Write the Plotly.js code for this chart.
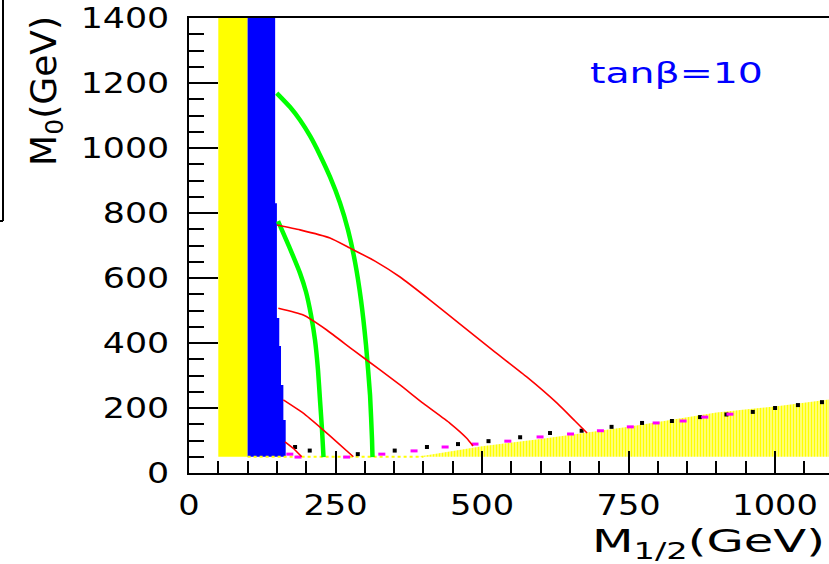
<!DOCTYPE html>
<html>
<head>
<meta charset="utf-8">
<script src="https://cdn.plot.ly/plotly-3.0.1.min.js"></script>
<style>
  html, body { margin: 0; padding: 0; background: #ffffff; }
  #chart { width: 829px; height: 564px; }
</style>
</head>
<body>
<div id="chart"></div>
<script>
// ---- data (GeV) ----
const yellowBandX = [50, 100, 100, 50, 50];
const yellowBandY = [50, 50, 1400, 1400, 50];

const blueX = [100, 147, 147, 150, 150, 154, 154, 157, 157, 161, 161, 165, 165, 100, 100];
const blueY = [1400, 1400, 830, 830, 477, 477, 391, 391, 271, 271, 163, 163, 50, 50, 1400];

const hatchX = [100, 390, 500, 600, 750, 900, 1000, 1100, 1100, 100];
const hatchY = [50, 50, 82, 105, 142, 186, 205, 228, 50, 50];

const yellowDotX = [100, 400];
const yellowDotY = [50, 50];

const greenOuterX = [149.7, 172.4, 189.4, 206.5, 223.5, 240.6, 257.7, 271.3, 283.3, 293.5, 302, 308.9, 312.3, 313.1];
const greenOuterY = [1169, 1126, 1086, 1037, 978, 911, 831, 748, 649, 532, 394, 240, 102, 49];

const greenInnerX = [151.9, 163.8, 177.5, 189.4, 199.7, 208.2, 215, 220.1, 223.5, 227, 229.5];
const greenInnerY = [775, 726, 668, 615, 557, 486, 409, 317, 225, 132, 49];

const red1X = [150.2, 189.4, 240.6, 274.7, 317.4, 360.1, 411.3, 462.5, 522.2, 576.8, 628, 658.7, 679.2];
const red1Y = [763, 748, 723, 692, 652, 603, 532, 458, 372, 295, 215, 160, 123];

const red2X = [152.4, 195, 235, 280.4, 326, 360, 399.8, 445.4, 473.9, 484.6];
const red2Y = [507, 486, 440, 378, 317, 271, 214, 153, 107, 83];

const red3X = [160.9, 195, 229.2, 252, 280.4];
const red3Y = [225, 184, 132, 96, 50];

const red4X = [163.8, 178, 192.3];
const red4Y = [96, 76, 50];

const blackDotX = [181, 206, 288, 351, 406, 459, 511, 565, 616, 670, 721, 773, 824, 872, 917, 962, 1000, 1039, 1080];
const blackDotY = [80, 69, 58, 69, 80, 89, 98, 110, 123, 130, 142, 154, 160, 172, 180, 188, 200, 209, 218];

const magentaDotX = [172, 186, 269, 329, 384, 437, 488, 544, 599, 651, 702, 753, 797, 843, 880, 923];
const magentaDotY = [58, 49, 49, 58, 68, 80, 89, 98, 111, 120, 130, 142, 154, 160, 172, 181];

const xTickVals = [0, 250, 500, 750, 1000];
const xTickText = ['0', '250', '500', '750', '1000'];
const yTickVals = [0, 200, 400, 600, 800, 1000, 1200, 1400];
const yTickText = ['0', '200', '400', '600', '800', '1000', '1200', '1400'];

const FONT = 'DejaVu Sans, Liberation Sans, Arial, sans-serif';

const traces = [
  { x: yellowBandX, y: yellowBandY, type: 'scatter', mode: 'lines', fill: 'toself',
    fillcolor: '#ffff00', line: { width: 0, color: '#ffff00' }, hoverinfo: 'skip' },
  { x: blueX, y: blueY, type: 'scatter', mode: 'lines', fill: 'toself',
    fillcolor: '#0000ff', line: { width: 0, color: '#0000ff' }, hoverinfo: 'skip' },
  { x: hatchX, y: hatchY, type: 'scatter', mode: 'lines', fill: 'toself',
    fillcolor: 'rgba(0,0,0,0)',
    fillpattern: { shape: '|', fgcolor: '#ffff00', bgcolor: 'rgba(255,255,255,0)', size: 3, solidity: 0.7 },
    line: { width: 0, color: '#ffff00' }, hoverinfo: 'skip' },
  { x: yellowDotX, y: yellowDotY, type: 'scatter', mode: 'lines',
    line: { width: 2, color: '#ffff00', dash: '3px,3px' }, hoverinfo: 'skip' },
  { x: blackDotX, y: blackDotY, type: 'scatter', mode: 'markers',
    marker: { symbol: 'square', size: 4, color: '#000000', line: { width: 0 } }, hoverinfo: 'skip' },
  { x: magentaDotX, y: magentaDotY, type: 'scatter', mode: 'markers',
    marker: { symbol: 'line-ew', size: 5, color: '#ff00ff', line: { width: 3, color: '#ff00ff' } }, hoverinfo: 'skip' },
  { x: greenOuterX, y: greenOuterY, type: 'scatter', mode: 'lines', line: { width: 4.5, color: '#00ff00', shape: 'spline', smoothing: 0.5 } },
  { x: greenInnerX, y: greenInnerY, type: 'scatter', mode: 'lines', line: { width: 4.5, color: '#00ff00', shape: 'spline', smoothing: 0.5 } },
  { x: red1X, y: red1Y, type: 'scatter', mode: 'lines', line: { width: 1.6, color: '#ff0000', shape: 'spline', smoothing: 0.5 } },
  { x: red2X, y: red2Y, type: 'scatter', mode: 'lines', line: { width: 1.6, color: '#ff0000', shape: 'spline', smoothing: 0.5 } },
  { x: red3X, y: red3Y, type: 'scatter', mode: 'lines', line: { width: 1.6, color: '#ff0000', shape: 'spline', smoothing: 0.5 } },
  { x: red4X, y: red4Y, type: 'scatter', mode: 'lines', line: { width: 1.6, color: '#ff0000' } }
];

const layout = {
  width: 829, height: 564,
  margin: { l: 189, r: 0, t: 18, b: 91, pad: 0 },
  paper_bgcolor: '#ffffff', plot_bgcolor: '#ffffff',
  showlegend: false,
  font: { family: FONT, color: '#000000' },
  xaxis: {
    range: [0, 1092], showgrid: false, zeroline: false,
    showline: true, linecolor: '#000000', linewidth: 2, mirror: true,
    ticks: 'inside', ticklen: 22, tickwidth: 2, tickcolor: '#000000',
    tickmode: 'array', tickvals: xTickVals, ticktext: xTickText,
    tickfont: { family: FONT, size: 28, color: '#000000' },
    ticklabelstandoff: 6,
    minor: { ticks: 'inside', ticklen: 12, tickwidth: 2, tickcolor: '#000000', dtick: 50, tick0: 0, showgrid: false }
  },
  yaxis: {
    range: [0, 1400], showgrid: false, zeroline: false,
    showline: true, linecolor: '#000000', linewidth: 2, mirror: false,
    ticks: 'inside', ticklen: 29, tickwidth: 2, tickcolor: '#000000',
    tickmode: 'array', tickvals: yTickVals, ticktext: yTickText,
    tickfont: { family: FONT, size: 29, color: '#000000' },
    ticklabelstandoff: 12,
    minor: { ticks: 'inside', ticklen: 15, tickwidth: 2, tickcolor: '#000000', dtick: 50, tick0: 0, showgrid: false }
  },
  annotations: [
    { text: 'tanβ=10', xref: 'paper', yref: 'paper', x: 0.7617, y: 0.877,
      xanchor: 'center', yanchor: 'middle', showarrow: false,
      font: { family: FONT, size: 28, color: '#0000ff' } },
    { text: 'M<sub>0</sub>(GeV)', xref: 'paper', yref: 'paper', x: -0.222, y: 0.8396,
      xanchor: 'center', yanchor: 'middle', textangle: -90, showarrow: false,
      font: { family: FONT, size: 36, color: '#000000' } },
    { text: 'M<sub>1/2</sub>(GeV)', xref: 'paper', yref: 'paper', x: 0.811, y: -0.1538,
      xanchor: 'center', yanchor: 'middle', showarrow: false,
      font: { family: FONT, size: 32, color: '#000000' } }
  ],
  shapes: [
    { type: 'line', xref: 'paper', yref: 'paper', x0: -0.2906, x1: -0.2906, y0: 1.0396, y1: 0.5538,
      line: { color: '#000000', width: 2 } },
    { type: 'line', xref: 'paper', yref: 'paper', x0: -0.2953, x1: -0.2906, y0: 0.5538, y1: 0.5538,
      line: { color: '#000000', width: 2 } }
  ]
};

// widen glyphs to mimic the horizontally stretched original lettering
function stretchText(selector, factor, target) {
  document.querySelectorAll(selector).forEach(function (t) {
    const L = t.getComputedTextLength();
    if (!L) return;
    const len = target ? target : L * factor;
    t.setAttribute('textLength', len);
    t.setAttribute('lengthAdjust', 'spacingAndGlyphs');
  });
}

Plotly.newPlot('chart', traces, layout, { displayModeBar: false, staticPlot: true }).then(function () {
  stretchText('#chart g.xtick text', 1.2);
  stretchText('#chart g.ytick text', 1.2);
  stretchText('#chart g.annotation[data-index="0"] text.annotation-text', 1, 173);
  stretchText('#chart g.annotation[data-index="2"] text.annotation-text', 1, 233);
});
</script>
</body>
</html>
